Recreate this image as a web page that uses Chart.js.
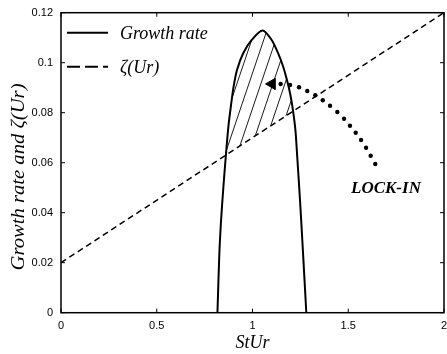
<!DOCTYPE html>
<html>
<head>
<meta charset="utf-8">
<script src="https://cdn.jsdelivr.net/npm/chart.js"></script>
<style>
  body { margin: 0; background: #fff; }
  #wrap { width: 447px; height: 354px; }
</style>
</head>
<body>
<div id="wrap"><canvas id="growthChart" width="447" height="354"></canvas></div>
<script>
// growth rate curve (left branch up, over the top, right branch down)
const growthX = [0.817, 0.827, 0.836, 0.848, 0.862, 0.875, 0.888, 0.901, 0.919, 0.952, 0.996, 1.052,
                 1.100, 1.133, 1.159, 1.180, 1.198, 1.211, 1.224, 1.233, 1.248, 1.263, 1.281];
const growthY = [0, 0.0239, 0.0371, 0.0503, 0.0639, 0.0751, 0.0831, 0.0903, 0.0971, 0.1039, 0.1091, 0.1129,
                 0.1091, 0.1039, 0.0987, 0.0931, 0.0871, 0.0811, 0.0731, 0.0631, 0.0451, 0.0251, 0];

// zeta(Ur) straight line
const zetaX = [0, 2];
const zetaY = [0.02, 0.12];

// dotted "lock-in" path and its arrow head
const lockX = [1.147, 1.196, 1.243, 1.286, 1.328, 1.367, 1.405, 1.443, 1.478, 1.509, 1.539, 1.567, 1.593, 1.617, 1.641];
const lockY = [0.0915, 0.0911, 0.0902, 0.0887, 0.0870, 0.0850, 0.0828, 0.0803, 0.0776, 0.0748, 0.0720, 0.0691, 0.0660, 0.0628, 0.0595];
const arrowX = [1.102];
const arrowY = [0.0915];

const xTicks = [0, 0.5, 1, 1.5, 2];
const xTickLabels = ['0', '0.5', '1', '1.5', '2'];
const yTicks = [0, 0.02, 0.04, 0.06, 0.08, 0.1, 0.12];
const yTickLabels = ['0', '0.02', '0.04', '0.06', '0.08', '0.1', '0.12'];

const toPoints = (xs, ys) => xs.map((v, i) => ({ x: v, y: ys[i] }));

const serif = '"Liberation Serif", "DejaVu Serif", serif';

// hatching between the growth curve and the zeta line, box, inward ticks, legend, labels
const decor = {
  id: 'decor',
  beforeDatasetsDraw(chart) {
    const { ctx, chartArea: a, scales: { x, y } } = chart;
    const meta = chart.getDatasetMeta(0);
    meta.dataset.updateControlPoints(a);
    const pts = meta.data;
    ctx.save();
    ctx.beginPath();
    ctx.moveTo(pts[0].x, pts[0].y);
    for (let i = 1; i < pts.length; i++) {
      const p = pts[i - 1], q = pts[i];
      ctx.bezierCurveTo(p.cp2x, p.cp2y, q.cp1x, q.cp1y, q.x, q.y);
    }
    ctx.closePath();
    ctx.clip();
    ctx.beginPath();
    ctx.moveTo(x.getPixelForValue(zetaX[0]), y.getPixelForValue(zetaY[0]));
    ctx.lineTo(x.getPixelForValue(zetaX[1]), y.getPixelForValue(zetaY[1]));
    ctx.lineTo(a.right, a.top - 50);
    ctx.lineTo(a.left, a.top - 50);
    ctx.closePath();
    ctx.clip();
    ctx.strokeStyle = '#000';
    ctx.lineWidth = 0.9;
    const k = 0.338, step = 12;
    const ax = x.getPixelForValue(0.867), ay = y.getPixelForValue(0.0657);
    ctx.beginPath();
    for (let n = -30; n <= 30; n++) {
      const bx = ax + n * step;
      ctx.moveTo(bx - k * (a.bottom - ay), a.bottom);
      ctx.lineTo(bx + k * (ay - a.top), a.top);
    }
    ctx.stroke();
    ctx.restore();
  },
  afterDraw(chart) {
    const { ctx, chartArea: a, scales: { x, y } } = chart;
    ctx.save();
    ctx.strokeStyle = '#000';
    ctx.lineWidth = 1.5;
    ctx.strokeRect(a.left, a.top, a.right - a.left, a.bottom - a.top);
    ctx.lineWidth = 1;
    ctx.beginPath();
    const tl = 4;
    xTicks.forEach(v => {
      const px = x.getPixelForValue(v);
      ctx.moveTo(px, a.bottom); ctx.lineTo(px, a.bottom - tl);
      ctx.moveTo(px, a.top); ctx.lineTo(px, a.top + tl);
    });
    yTicks.forEach(v => {
      const py = y.getPixelForValue(v);
      ctx.moveTo(a.left, py); ctx.lineTo(a.left + tl, py);
      ctx.moveTo(a.right, py); ctx.lineTo(a.right - tl, py);
    });
    ctx.stroke();

    // legend
    const lx = a.left + 6, ly1 = a.top + 20, ly2 = a.top + 54;
    ctx.lineWidth = 2;
    ctx.beginPath();
    ctx.moveTo(lx, ly1); ctx.lineTo(lx + 41, ly1);
    ctx.stroke();
    ctx.setLineDash([13, 5]);
    ctx.beginPath();
    ctx.moveTo(lx, ly2); ctx.lineTo(lx + 41, ly2);
    ctx.stroke();
    ctx.setLineDash([]);
    ctx.fillStyle = '#000';
    ctx.font = 'italic 18px ' + serif;
    ctx.textAlign = 'left';
    ctx.textBaseline = 'alphabetic';
    ctx.fillText('Growth rate', lx + 53, ly1 + 6);
    ctx.fillText('ζ(Ur)', lx + 53, ly2 + 6);

    // lock-in label
    ctx.font = 'italic bold 17px ' + serif;
    ctx.textAlign = 'center';
    ctx.fillText('LOCK-IN', x.getPixelForValue(1.697), y.getPixelForValue(0.0479));

    // y axis title, stretched a little along its length like the original
    ctx.font = 'italic 18px ' + serif;
    const yTitle = 'Growth rate and ζ(Ur)';
    const stretch = 187 / ctx.measureText(yTitle).width;
    ctx.translate(24, 177);
    ctx.rotate(-Math.PI / 2);
    ctx.scale(stretch, 1);
    ctx.fillText(yTitle, 0, 0);
    ctx.restore();
  }
};

const tickFont = { family: '"Liberation Sans", Arial, sans-serif', size: 11 };

new Chart(document.getElementById('growthChart'), {
  type: 'scatter',
  data: {
    datasets: [
      {
        label: 'Growth rate',
        data: toPoints(growthX, growthY),
        showLine: true,
        borderColor: '#000',
        borderWidth: 2,
        tension: 0.3,
        pointRadius: 0
      },
      {
        label: 'ζ(Ur)',
        data: toPoints(zetaX, zetaY),
        showLine: true,
        borderColor: '#000',
        borderWidth: 1.5,
        borderDash: [6, 4],
        pointRadius: 0
      },
      {
        label: 'lock-in',
        data: toPoints(lockX, lockY),
        showLine: false,
        pointRadius: 2.2,
        pointBackgroundColor: '#000',
        pointBorderWidth: 0
      },
      {
        label: 'arrow',
        data: toPoints(arrowX, arrowY),
        showLine: false,
        pointStyle: 'triangle',
        rotation: 270,
        pointRadius: 6.5,
        pointBackgroundColor: '#000',
        pointBorderColor: '#000',
        pointBorderWidth: 1
      }
    ]
  },
  options: {
    responsive: false,
    animation: false,
    layout: { autoPadding: false, padding: { top: 12.7, right: 3, left: 0, bottom: 0 } },
    plugins: { legend: { display: false }, tooltip: { enabled: false } },
    scales: {
      x: {
        type: 'linear',
        min: 0,
        max: 2,
        grid: { display: false, drawTicks: false },
        border: { display: false },
        afterBuildTicks: s => { s.ticks = xTicks.map(v => ({ value: v })); },
        afterFit: s => { s.height = 41.3; s.paddingLeft = 0; s.paddingRight = 0; },
        ticks: {
          padding: 7,
          color: '#000',
          font: tickFont,
          maxRotation: 0,
          callback: (v, i) => xTickLabels[i]
        },
        title: {
          display: true,
          text: 'StUr',
          color: '#000',
          font: { family: serif, size: 18, style: 'italic' },
          padding: { top: 0, bottom: 0 }
        }
      },
      y: {
        type: 'linear',
        min: 0,
        max: 0.12,
        grid: { display: false, drawTicks: false },
        border: { display: false },
        afterBuildTicks: s => { s.ticks = yTicks.map(v => ({ value: v })); },
        afterFit: s => { s.width = 61; s.paddingTop = 0; s.paddingBottom = 0; },
        ticks: {
          padding: 8,
          color: '#000',
          font: tickFont,
          callback: (v, i) => yTickLabels[i]
        }
      }
    }
  },
  plugins: [decor]
});
</script>
</body>
</html>
